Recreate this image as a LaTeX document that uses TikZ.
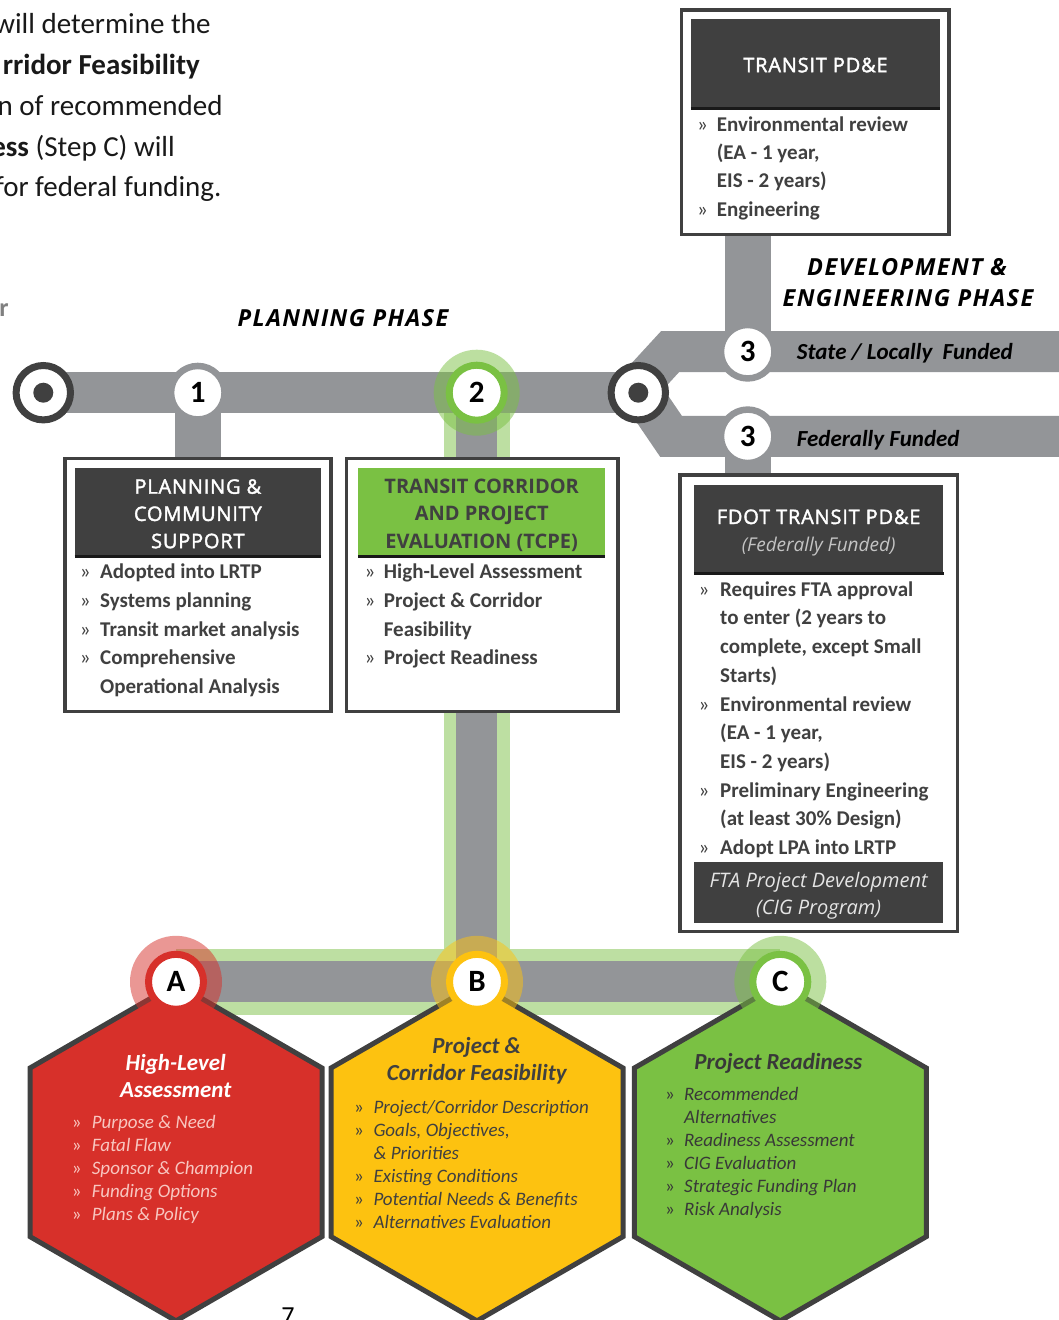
\documentclass[tikz,border=0pt]{standalone}
\usepackage{fontspec}
\setmainfont{Carlito}
\newfontfamily\hdfont[LetterSpace=4,FakeBold=2]{Open Sans}
\newfontfamily\hdboldfont{Open Sans}
\newfontfamily\phasefont[LetterSpace=6]{Open Sans}
\newfontfamily\subfont{Open Sans}
\usetikzlibrary{calc}

\pgfdeclarelayer{tracks}
\pgfdeclarelayer{hexes}
\pgfdeclarelayer{halos}
\pgfsetlayers{tracks,hexes,halos,main}

\definecolor{trackgray}{HTML}{939598}
\definecolor{ink}{HTML}{404040}
\definecolor{leaf}{HTML}{7AC143}
\definecolor{leaflt}{HTML}{BDDFA2}
\definecolor{brick}{HTML}{D7302A}
\definecolor{sun}{HTML}{FDC210}
\definecolor{blush}{HTML}{F8C6C0}
\definecolor{paleink}{HTML}{C4C4C4}

\newcommand\fs[2]{\fontsize{#1}{#2}\selectfont}
\newcommand\bu[1]{\makebox[#1][l]{\upshape\mdseries»}}
\newcommand\ind[1]{\hspace*{#1}}
% one hexagon (pointy top), given its centre x and fill colour
\newcommand\hexcell[2]{\path[hexedge, fill=#2] (#1,983.7) -- ++(146,84.3) -- ++(0,168.6) -- ++(-146,84.3) -- ++(-146,-84.3) -- ++(0,-168.6) -- cycle;}

\tikzset{
  track/.style={line width=41pt, draw=trackgray, line join=miter},
  band/.style={line width=66pt, draw=leaflt},
  stub/.style={line width=46pt, draw=trackgray},
  terminal/.style={circle, draw=ink, line width=7pt, fill=white, minimum size=54.4pt, inner sep=0pt},
  stop/.style={circle, fill=white, inner sep=0pt, minimum size=53.5pt, line width=6.5pt, draw=trackgray, text=black, font=\fs{31}{31}\bfseries},
  milestone/.style={circle, fill=white, inner sep=0pt, minimum size=55pt, line width=7pt, text=black, font=\fs{31}{31}\bfseries},
  frame/.style={draw=ink, line width=3.3pt, fill=white, inner sep=0pt},
  hdr/.style={fill=ink, inner sep=0pt, align=center},
  hdrrule/.style={line width=2.6pt, draw=black!90},
  list/.style={anchor=north west, inner sep=0pt, align=left, text=ink, font=\fs{21}{28.75}\bfseries},
  hexlist/.style={anchor=north west, inner sep=0pt, align=left, font=\fs{19}{23}\itshape},
  hextitle/.style={anchor=north, inner sep=0pt, align=center, font=\fs{23}{27}\bfseries\itshape},
  para/.style={anchor=base east, inner sep=0pt, text=black!90, font=\fs{29}{41}},
  phase/.style={inner sep=0pt, anchor=base, text=black, font=\phasefont\bfseries\itshape\fs{23.5}{23.5}},
  fund/.style={inner sep=0pt, anchor=base west, text=black, font=\fs{23}{23}\bfseries\itshape},
  hexedge/.style={draw=ink, line width=5pt, line join=miter}
}

\begin{document}
\begin{tikzpicture}[x=1pt,y=-1pt]
\useasboundingbox (0,0) rectangle (1058,1320);

% ---------- text of the page ----------
\node[para] (t1) at (210.7,33.3) {will determine the};
\node[para] (t2) at (200,74) {\bfseries rridor Feasibility};
\node[para] (t3) at (222.7,115) {n of recommended};
\node[para] (t4) at (175,156.7) {\textbf{ess} (Step C) will};
\node[para] (t5) at (221.7,196.7) {for federal funding.};
\node[para, text=black!50, font=\fs{26}{26}\bfseries] (t6) at (8.8,316) {r};

\node[phase] (pp) at (343,326.5) {PLANNING PHASE};
\node[phase] (de1) at (907,275) {DEVELOPMENT \&};
\node[phase] (de2) at (908,306) {ENGINEERING PHASE};

% ---------- stations ----------
\node[terminal] (s0) at (43.3,392.7) {};
\fill[ink] (s0.center) circle (10pt);
\node[stop] (n1) at (197.8,392.7) {1};
\node[milestone, draw=leaf] (n2) at (476.7,392.7) {2};
\node[terminal] (j0) at (638.3,392.7) {};
\fill[ink] (j0.center) circle (10pt);
\node[stop] (n3a) at (747.7,351.7) {3};
\node[stop] (n3b) at (747.7,436.3) {3};
\node[milestone, draw=brick] (nA) at (176,981.8) {A};
\node[milestone, draw=sun] (nB) at (477,981.8) {B};
\node[milestone, draw=leaf] (nC) at (780.3,981.8) {C};

\coordinate (ku) at (670,351.7);
\coordinate (eu) at (1075,351.7);
\coordinate (kl) at (671,436.3);
\coordinate (el) at (1075,436.3);

\node[fund] (lf1) at (796.7,359) {State / Locally \ Funded};
\node[fund] (lf2) at (796.7,446.5) {Federally Funded};

% ---------- box 1: planning & community support ----------
\node[frame, minimum width=266pt, minimum height=252.7pt] (b1) at (198,585) {};
\node[hdr, minimum width=246.3pt, minimum height=88.3pt] (h1) at (197.85,511.85) {};
\node[inner sep=0pt, anchor=north, align=center, text=white, font=\hdfont\fs{20}{27.2}] (h1t) at (197.85,474.5) {\strut PLANNING \&\\COMMUNITY\\SUPPORT};
\draw[hdrrule] (h1.south west) -- (h1.south east);
\node[list] (l1) at (79.7,558.2) {\strut\bu{20.3pt}Adopted into LRTP\\
  \bu{20.3pt}Systems planning\\
  \bu{20.3pt}Transit market analysis\\
  \bu{20.3pt}Comprehensive\\
  \ind{20.3pt}Operational Analysis};

% ---------- box 2: TCPE ----------
\node[frame, minimum width=271.3pt, minimum height=252.7pt] (b2) at (482.3,585) {};
\node[hdr, fill=leaf, minimum width=246.6pt, minimum height=88.3pt] (h2) at (481.7,511.85) {};
\node[inner sep=0pt, anchor=north, align=center, text=ink, font=\hdboldfont\bfseries\fs{20}{27.2}] (h2t) at (481.7,474.5) {\strut TRANSIT CORRIDOR\\AND PROJECT\\EVALUATION (TCPE)};
\draw[hdrrule] (h2.south west) -- (h2.south east);
\node[list] (l2) at (364.4,558.2) {\strut\bu{19.3pt}High-Level Assessment\\
  \bu{19.3pt}Project \& Corridor\\
  \ind{19.3pt}Feasibility\\
  \bu{19.3pt}Project Readiness};

% ---------- transit PD&E ----------
\node[frame, minimum width=267.4pt, minimum height=224.4pt] (bT) at (815.35,122.15) {};
\node[hdr, minimum width=249pt, minimum height=89pt] (hT) at (815.5,63.8) {};
\node[inner sep=0pt, anchor=base, text=white, font=\hdfont\fs{20}{20}] (hTt) at (815.5,72.2) {TRANSIT PD\&E};
\draw[hdrrule] (hT.south west) -- (hT.south east);
\node[list, font=\fs{21}{28.3}\bfseries] (lT) at (697,111.2) {\strut\bu{19.7pt}Environmental review\\
  \ind{19.7pt}(EA - 1 year,\\
  \ind{19.7pt}EIS - 2 years)\\
  \bu{19.7pt}Engineering};

% ---------- FDOT transit PD&E ----------
\node[frame, minimum width=277.7pt, minimum height=456.7pt] (bF) at (818.8,703.3) {};
\node[hdr, minimum width=249.3pt, minimum height=88.3pt] (hF) at (818.65,529.15) {};
\draw[hdrrule] (hF.south west) -- (hF.south east);
\node[inner sep=0pt, anchor=base, text=white, font=\hdfont\fs{20}{20}] (hF1) at (818.65,524) {FDOT TRANSIT PD\&E};
\node[inner sep=0pt, anchor=base, text=paleink, font=\subfont\itshape\fs{19}{19}] (hF2) at (818.65,551.5) {(Federally Funded)};
\node[list, font=\fs{21}{28.7}\bfseries] (lF) at (698.3,575.9) {\strut\bu{21.7pt}Requires FTA approval\\
  \ind{21.7pt}to enter (2 years to\\
  \ind{21.7pt}complete, except Small\\
  \ind{21.7pt}Starts)\\
  \bu{21.7pt}Environmental review\\
  \ind{21.7pt}(EA - 1 year,\\
  \ind{21.7pt}EIS - 2 years)\\
  \bu{21.7pt}Preliminary Engineering\\
  \ind{21.7pt}(at least 30\% Design)\\
  \bu{21.7pt}Adopt LPA into LRTP};
\node[hdr, minimum width=249.3pt, minimum height=61.6pt] (fF) at (818.65,892.5) {};
\node[inner sep=0pt, anchor=base, text=white!90!black, font=\subfont\itshape\fs{20}{20}] (fF1) at (818.65,887.5) {FTA Project Development};
\node[inner sep=0pt, anchor=base, text=white!90!black, font=\subfont\itshape\fs{20}{20}] (fF2) at (818.65,914.5) {(CIG Program)};

% ---------- hexagon texts ----------
\node[hextitle, text=white] (xA) at (175.7,1051.8) {\strut High-Level\\Assessment};
\node[hexlist, text=blush] (yA) at (71.7,1111.7) {\strut\bu{20pt}Purpose \& Need\\
  \bu{20pt}Fatal Flaw\\
  \bu{20pt}Sponsor \& Champion\\
  \bu{20pt}Funding Options\\
  \bu{20pt}Plans \& Policy};

\node[hextitle, text=ink] (xB) at (476.7,1034.8) {\strut Project \&\\Corridor Feasibility};
\node[hexlist, text=ink] (yB) at (354,1096.7) {\strut\bu{19.3pt}Project/Corridor Description\\
  \bu{19.3pt}Goals, Objectives,\\
  \ind{19.3pt}\& Priorities\\
  \bu{19.3pt}Existing Conditions\\
  \bu{19.3pt}Potential Needs \& Benefits\\
  \bu{19.3pt}Alternatives Evaluation};

\node[hextitle, text=black!78] (xC) at (778.3,1050.8) {\strut Project Readiness};
\node[hexlist, text=black!78] (yC) at (665,1083.7) {\strut\bu{19pt}Recommended\\
  \ind{19pt}Alternatives\\
  \bu{19pt}Readiness Assessment\\
  \bu{19pt}CIG Evaluation\\
  \bu{19pt}Strategic Funding Plan\\
  \bu{19pt}Risk Analysis};

\node[inner sep=0pt, anchor=base, text=black, font=\fs{26}{26}] (pg) at (288,1324.5) {7};

% ---------- tracks ----------
\begin{pgfonlayer}{tracks}
  \fill[white] (0,0) rectangle (1058,1320);
  \draw[band] (n2.center) -- (n2.center |- nB.center);
  \draw[band] (nA.center) -- (nC.center);
  \draw[track] (n2.center) -- (n2.center |- nB.center);
  \draw[track] (nA.center) -- (nC.center);
  \draw[track] (s0.center) -- (j0.center);
  \draw[stub] (n1.center) -- (n1.center |- b1.north);
  \draw[track] ([xshift=-6pt]j0.center) -- (ku) -- (eu);
  \draw[track] ([xshift=3pt]j0.center) -- (kl) -- (el);
  \draw[stub] (n3a.center) -- (n3a.center |- bT.south);
  \draw[stub] (n3b.center) -- (n3b.center |- bF.north);
\end{pgfonlayer}

% ---------- hexagons ----------
\begin{pgfonlayer}{hexes}
  \hexcell{176}{brick}
  \hexcell{477}{sun}
  \hexcell{780.3}{leaf}
\end{pgfonlayer}

% ---------- halos ----------
\begin{pgfonlayer}{halos}
  \fill[leaf, opacity=.5] (n2.center) circle (43pt);
  \fill[brick, opacity=.5] (nA.center) circle (46pt);
  \fill[sun, opacity=.5] (nB.center) circle (46pt);
  \fill[leaf, opacity=.5] (nC.center) circle (46pt);
\end{pgfonlayer}
\end{tikzpicture}
\end{document}
